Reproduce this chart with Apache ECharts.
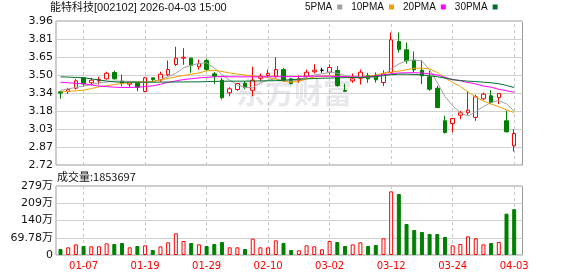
<!DOCTYPE html>
<html><head><meta charset="utf-8">
<script src="https://cdn.jsdelivr.net/npm/echarts@6/dist/echarts.min.js"></script>
<style>html,body{margin:0;padding:0;background:#fff}#c{width:578px;height:276px}</style>
</head><body><div id="c"></div>
<script>
const stockTitle = '能特科技[002102] 2026-04-03 15:00';
const volumeTitle = '成交量';
const maNames = ['5PMA', '10PMA', '20PMA', '30PMA'];
const dates = ['12-31','01-05','01-06','01-07','01-08','01-09','01-12','01-13','01-14','01-15',
  '01-16','01-19','01-20','01-21','01-22','01-23','01-26','01-27','01-28','01-29',
  '01-30','02-02','02-03','02-04','02-05','02-06','02-09','02-10','02-11','02-12',
  '02-13','02-24','02-25','02-26','02-27','03-02','03-03','03-04','03-05','03-06',
  '03-09','03-10','03-11','03-12','03-13','03-16','03-17','03-18','03-19','03-20',
  '03-23','03-24','03-25','03-26','03-27','03-30','03-31','04-01','04-02','04-03'];
const opens = [3.350,3.353,3.381,3.471,3.428,3.445,3.462,3.517,3.442,3.416,
  3.428,3.353,3.471,3.454,3.497,3.585,3.640,3.640,3.566,3.620,
  3.505,3.450,3.342,3.370,3.424,3.364,3.467,3.491,3.485,3.542,
  3.462,3.448,3.485,3.523,3.536,3.519,3.534,3.362,3.445,3.467,
  3.491,3.493,3.430,3.517,3.783,3.712,3.622,3.536,3.479,3.381,
  3.101,3.077,3.149,3.170,3.130,3.290,3.316,3.301,3.101,2.885];
const closes = [3.340,3.370,3.445,3.419,3.450,3.456,3.510,3.462,3.422,3.428,
  3.390,3.471,3.456,3.502,3.542,3.640,3.648,3.577,3.592,3.542,
  3.485,3.299,3.376,3.422,3.387,3.450,3.485,3.508,3.542,3.450,
  3.422,3.462,3.519,3.536,3.536,3.560,3.405,3.355,3.462,3.519,
  3.462,3.454,3.505,3.798,3.715,3.617,3.540,3.488,3.373,3.215,
  3.000,3.120,3.170,3.192,3.307,3.330,3.258,3.336,3.006,2.991];
const lows = [3.290,3.333,3.370,3.399,3.405,3.413,3.456,3.456,3.399,3.390,
  3.355,3.347,3.433,3.436,3.485,3.571,3.583,3.514,3.540,3.528,
  3.419,3.284,3.312,3.359,3.376,3.312,3.442,3.479,3.471,3.433,
  3.413,3.428,3.471,3.508,3.514,3.499,3.393,3.350,3.428,3.413,
  3.428,3.430,3.399,3.510,3.689,3.594,3.517,3.416,3.359,3.210,
  2.991,3.002,3.114,3.152,3.100,3.278,3.244,3.244,3.000,2.836];
const highs = [3.355,3.385,3.462,3.476,3.471,3.479,3.523,3.534,3.499,3.436,
  3.433,3.479,3.471,3.523,3.620,3.738,3.726,3.645,3.628,3.637,
  3.519,3.471,3.390,3.428,3.442,3.566,3.508,3.542,3.648,3.557,
  3.467,3.491,3.542,3.588,3.557,3.588,3.571,3.420,3.508,3.542,
  3.514,3.517,3.536,3.861,3.861,3.775,3.697,3.622,3.531,3.402,
  3.144,3.125,3.187,3.353,3.325,3.344,3.364,3.340,3.187,3.028];
const volumes = [243000,310000,431000,364000,351000,351000,472000,445000,485000,310000,
  364000,391000,202000,351000,512000,876000,566000,485000,431000,364000,
  445000,526000,310000,310000,243000,661000,310000,310000,593000,485000,
  202000,189000,391000,351000,229000,566000,526000,364000,431000,512000,
  364000,405000,674000,2575000,2468000,1254000,1011000,930000,849000,849000,
  728000,391000,445000,755000,674000,431000,485000,526000,1672000,1853697];
const ma5 = [3.362,3.375,3.388,3.399,3.412,3.428,3.435,3.442,3.442,3.440,
  3.438,3.436,3.440,3.456,3.480,3.510,3.557,3.580,3.594,3.600,
  3.555,3.500,3.450,3.410,3.388,3.385,3.428,3.452,3.462,3.445,
  3.442,3.455,3.480,3.495,3.505,3.518,3.510,3.490,3.482,3.479,
  3.476,3.478,3.495,3.548,3.590,3.618,3.625,3.615,3.540,3.430,
  3.310,3.230,3.170,3.142,3.180,3.224,3.258,3.275,3.247,3.184];
const ma10 = [3.350,3.354,3.359,3.364,3.378,3.393,3.403,3.413,3.422,3.430,
  3.433,3.433,3.440,3.452,3.465,3.478,3.491,3.502,3.513,3.530,
  3.536,3.525,3.513,3.503,3.495,3.488,3.480,3.472,3.460,3.440,
  3.432,3.442,3.462,3.478,3.485,3.488,3.485,3.480,3.472,3.472,
  3.485,3.495,3.512,3.520,3.528,3.540,3.553,3.555,3.547,3.517,
  3.470,3.432,3.395,3.350,3.305,3.270,3.245,3.222,3.195,3.171];
const ma20 = [3.433,3.428,3.424,3.419,3.410,3.400,3.395,3.390,3.388,3.388,
  3.390,3.395,3.402,3.415,3.432,3.444,3.456,3.463,3.470,3.475,
  3.479,3.481,3.480,3.479,3.479,3.479,3.479,3.480,3.480,3.480,
  3.481,3.482,3.484,3.485,3.485,3.484,3.482,3.480,3.478,3.476,
  3.480,3.488,3.497,3.505,3.512,3.514,3.515,3.512,3.505,3.495,
  3.475,3.456,3.445,3.430,3.418,3.400,3.390,3.372,3.360,3.346];
const ma30 = [3.479,3.477,3.474,3.471,3.462,3.452,3.443,3.436,3.433,3.433,
  3.433,3.433,3.433,3.434,3.434,3.435,3.435,3.436,3.436,3.438,
  3.440,3.441,3.442,3.442,3.442,3.443,3.444,3.445,3.446,3.450,
  3.455,3.459,3.462,3.465,3.467,3.469,3.471,3.472,3.473,3.474,
  3.478,3.482,3.490,3.498,3.502,3.502,3.500,3.496,3.488,3.480,
  3.468,3.455,3.448,3.442,3.438,3.433,3.428,3.420,3.405,3.387];
const priceTicks = ['2.72','2.87','3.03','3.18','3.34','3.50','3.65','3.81','3.96'];
const volTicks = ['0','69.78万','140万','209万','279万'];
const xTickLabels = ['01-07','01-19','01-29','02-10','03-02','03-12','03-24','04-03'];

// ---- derived structures ----
const xTickIdx = xTickLabels.map(d => dates.indexOf(d));
const pMin = parseFloat(priceTicks[0]);
const pMax = parseFloat(priceTicks[priceTicks.length - 1]);
const pStep = (pMax - pMin) / (priceTicks.length - 1);
const vStep = parseFloat(volTicks[1]) * 10000;
const vMax = vStep * (volTicks.length - 1);
const candleData = dates.map((d, i) => [i, opens[i], closes[i], lows[i], highs[i]]);
const volData = volumes.map((v, i) => {
  const up = i === 0 ? closes[i] >= opens[i] : closes[i] >= closes[i - 1];
  return {
    value: [i, v],
    itemStyle: up ? { color: '#ffffff', borderColor: '#ff0000', borderWidth: 1 }
                  : { color: '#008000', borderColor: '#008000', borderWidth: 1 }
  };
});
const maColors = ['#a0a0a0', '#f0a000', '#ff00ff', '#006f2f'];
const maData = [ma5, ma10, ma20, ma30];

const X_MIN = -0.585, X_MAX = 60.08;
const numFont = "'DejaVu Sans', 'Noto Sans CJK SC', sans-serif";
const narrowFont = "'Liberation Sans Narrow', 'Liberation Sans', 'Noto Sans CJK SC', sans-serif";
const cjkFont = "'Noto Sans CJK SC', sans-serif";
const dashLine = { color: '#c8c8c8', type: [3, 3], width: 1 };
const markVert = {
  symbol: 'none', silent: true, animation: false, label: { show: false }, z: 1,
  lineStyle: dashLine, data: xTickIdx.map(v => ({ xAxis: v }))
};

const chart = echarts.init(document.getElementById('c'), null, { renderer: 'canvas' });
chart.setOption({
  animation: false,
  backgroundColor: '#ffffff',
  title: [
    { text: stockTitle, left: 50, top: 2, padding: 0,
      textStyle: { fontSize: 11, fontWeight: 'normal', color: '#111', fontFamily: narrowFont } },
    { text: volumeTitle + ':' + volumes[volumes.length - 1], left: 57, top: 171, padding: 0,
      textStyle: { fontSize: 11, fontWeight: 'normal', color: '#111', fontFamily: cjkFont } }
  ],
  legend: {
    data: maNames, left: 305, top: 2, icon: 'rect', align: 'right',
    itemWidth: 5, itemHeight: 5, itemGap: 9, padding: 0,
    textStyle: { fontSize: 10, color: '#111', fontFamily: narrowFont, padding: [0, 0, 0, 0] }
  },
  graphic: [{
    type: 'text', left: 236, top: 78, z: -1, silent: true,
    style: { text: '东方财富', font: "bold 29px 'Noto Sans CJK SC'", fill: '#e8e8ec' }
  }],
  grid: [
    { left: 56, right: 55.5, top: 21, height: 144, show: true, borderColor: '#999', borderWidth: 1 },
    { left: 56, right: 55.5, top: 186, height: 69, show: true, borderColor: '#999', borderWidth: 1 }
  ],
  xAxis: [
    { type: 'value', gridIndex: 0, min: X_MIN, max: X_MAX,
      axisLine: { show: false }, axisTick: { show: false }, axisLabel: { show: false }, splitLine: { show: false } },
    { type: 'value', gridIndex: 1, min: X_MIN, max: X_MAX,
      axisLine: { show: false }, axisTick: { show: false }, splitLine: { show: false },
      axisLabel: { customValues: xTickIdx, formatter: v => dates[Math.round(v)] || '', color: '#ff0000',
        fontSize: 10, fontFamily: numFont, margin: 6, showMinLabel: true, showMaxLabel: true } }
  ],
  yAxis: [
    { type: 'value', gridIndex: 0, min: pMin, max: pMax, interval: pStep,
      axisLine: { show: false }, axisTick: { show: false },
      splitLine: { lineStyle: { color: '#d0d0d0', width: 1 } },
      axisLabel: { formatter: v => priceTicks[Math.round((v - pMin) / pStep)], color: '#111',
        fontSize: 11, fontFamily: numFont, margin: 3 } },
    { type: 'value', gridIndex: 1, min: 0, max: vMax, interval: vStep,
      axisLine: { show: false }, axisTick: { show: false },
      splitLine: { lineStyle: { color: '#d0d0d0', width: 1 } },
      axisLabel: { formatter: v => volTicks[Math.round(v / vStep)], color: '#111',
        fontSize: 11, fontFamily: numFont, margin: 3 } }
  ],
  series: [
    { type: 'line', name: 'grid-main', xAxisIndex: 0, yAxisIndex: 0, data: [], z: 1, markLine: markVert },
    { type: 'line', name: 'grid-vol', xAxisIndex: 1, yAxisIndex: 1, data: [], z: 1, markLine: markVert },
    { type: 'candlestick', name: 'K', xAxisIndex: 0, yAxisIndex: 0, data: candleData,
      encode: { x: 0, y: [1, 2, 3, 4] }, barWidth: 4, z: 3,
      itemStyle: { color: '#ffffff', color0: '#008000', borderColor: '#ff0000', borderColor0: '#008000',
        borderColorDoji: '#000000', borderWidth: 1 } },
    { type: 'bar', name: 'VOL', xAxisIndex: 1, yAxisIndex: 1, data: volData, barWidth: 4, z: 3 },
    ...maNames.map((n, k) => ({
      type: 'line', name: n, xAxisIndex: 0, yAxisIndex: 0, z: 4,
      data: maData[k].map((v, i) => [i, v]), showSymbol: false, symbol: 'none',
      color: maColors[k], lineStyle: { color: maColors[k], width: 1 }
    }))
  ]
});
</script></body></html>
